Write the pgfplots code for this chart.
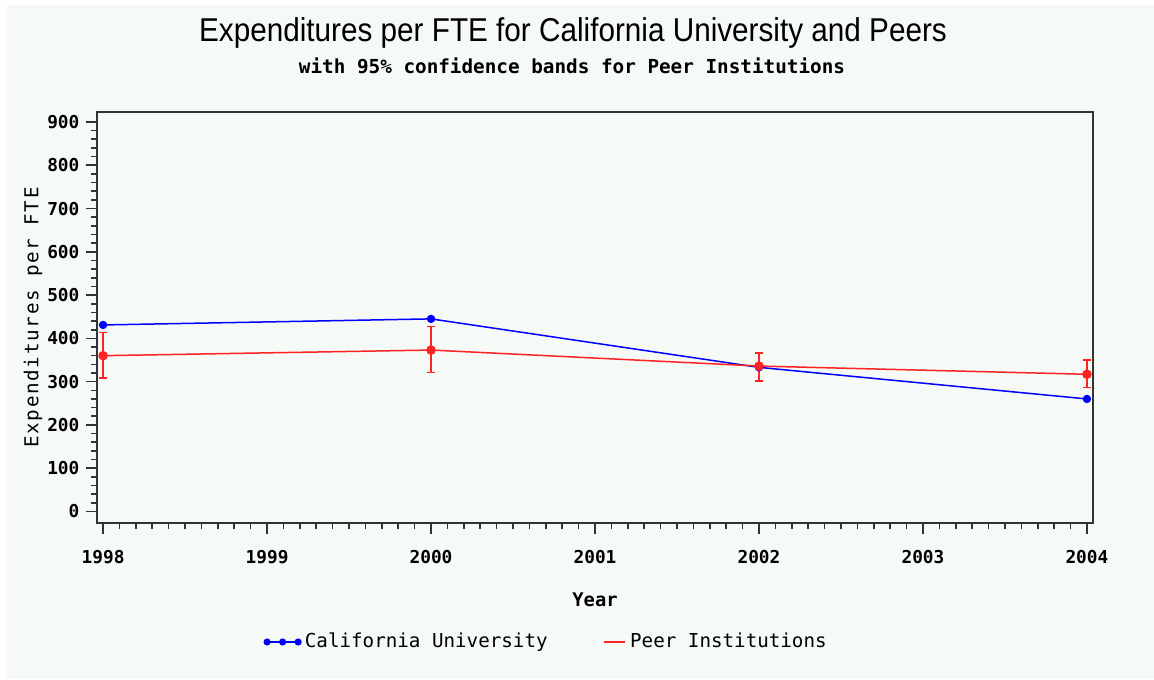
\documentclass[border=0pt]{standalone}
\usepackage{fontspec}
\setmainfont{Liberation Sans}
\newfontfamily\pixfont{DejaVu Sans Mono}
\newfontfamily\pixfontsp[LetterSpace=9]{DejaVu Sans Mono}
\usepackage{pgfplots}
\pgfplotsset{compat=1.18}
\definecolor{bgc}{HTML}{F6FAF7}
\definecolor{axc}{HTML}{333333}
\definecolor{cublue}{HTML}{0000FF}
\definecolor{peerred}{HTML}{FF2222}
\pgfplotsset{
  cu legend/.style={legend image code/.code={\draw[##1, mark repeat=1, mark size=1.4pt]
    plot coordinates {(0pt,0pt) (7.75pt,0pt) (15.5pt,0pt)};}},
  peer legend/.style={legend image code/.code={\draw[##1, mark=none] (0pt,0pt) -- (10.5pt,0pt);}},
}
\begin{document}
\begin{tikzpicture}
% page background (1px = 0.5pt, axis origin at pixel (97,523))
\fill[white] (-48.5pt,-78pt) rectangle (528.5pt,261.5pt);
\fill[bgc] (-45pt,-78pt) rectangle (528.5pt,259pt);
\begin{axis}[at={(0,0)}, anchor=south west,
  scale only axis, width=498pt, height=205.5pt,
  xmin=1997.963, xmax=2004.037, ymin=-26.6, ymax=923,
  xtick={1998,1999,2000,2001,2002,2003,2004},
  ytick={0,100,200,300,400,500,600,700,800,900},
  minor x tick num=9, minor y tick num=4,
  tick align=outside, tick pos=left,
  major tick length=5.3pt, minor tick length=3pt,
  axis line style={axc, line width=1pt},
  tick style={axc, line width=0.8pt},
  /pgf/number format/assume math mode=true,
  x tick label style={/pgf/number format/1000 sep={}, yshift=-5pt},
  tick label style={font=\pixfont\bfseries\fontsize{8.9}{10}\selectfont},
  xlabel={Year}, ylabel={Expenditures per FTE},
  every axis x label/.style={at={(axis description cs:0.5,0)}, anchor=center,
    yshift=-38.5pt, font=\pixfont\bfseries\fontsize{9.4}{11}\selectfont},
  every axis y label/.style={at={(axis description cs:0,0.5)}, xshift=-32pt,
    rotate=90, anchor=center, font=\pixfontsp\fontsize{9.6}{11}\selectfont},
  legend columns=2,
  legend style={at={(axis description cs:0.4523,-0.2895)}, anchor=center,
    draw=none, fill=none, font=\pixfont\fontsize{9.6}{11}\selectfont,
    /tikz/every even column/.append style={column sep=26pt}},
]
\addplot[cublue, line width=0.75pt, mark=*, mark size=1.7pt, cu legend]
  coordinates {(1998,431) (2000,445) (2002,333) (2004,260)};
\addlegendentry{California University}
\addplot[peerred, line width=0.75pt, mark=*, mark size=2pt, peer legend,
  error bars/.cd, y dir=both, y explicit,
  error bar style={line width=0.75pt},
  error mark options={peerred, rotate=90, mark size=1.9pt, line width=0.75pt}]
  table[x=year, y=peer, y error plus=ep, y error minus=em] {
year peer ep em
1998 360 54 51
2000 373 54 52
2002 336 30 34
2004 317 33 31
};
\addlegendentry{Peer Institutions}
\end{axis}
\node[font=\fontsize{16.5}{18}\selectfont] at (238pt,245pt)
  {\scalebox{0.9}[1]{Expenditures per FTE for California University and Peers}};
\node[font=\pixfont\bfseries\fontsize{9.65}{11}\selectfont] at (237.5pt,228.5pt)
  {with 95\% confidence bands for Peer Institutions};
\end{tikzpicture}
\end{document}
